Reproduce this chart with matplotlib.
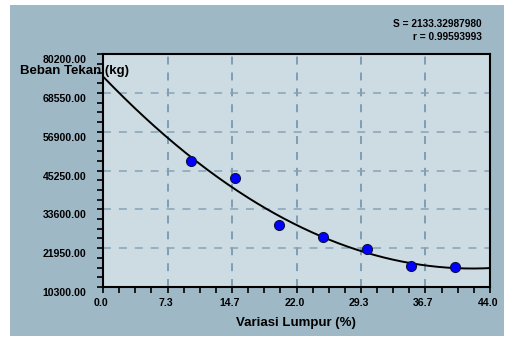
import numpy as np
import matplotlib
matplotlib.use("Agg")
import matplotlib.pyplot as plt
from matplotlib.patches import Rectangle
from matplotlib.ticker import FixedLocator, AutoMinorLocator, FormatStrFormatter
from matplotlib.transforms import ScaledTranslation

# data
lumpur = [10, 15, 20, 25, 30, 35, 40]
beban = [48100, 42910, 28900, 25400, 21700, 16500, 16300]

x_ticks = [0.0, 44 / 6, 88 / 6, 22.0, 176 / 6, 220 / 6, 44.0]
y_ticks = [10300, 21950, 33600, 45250, 56900, 68550, 80200]

fit_text = "S = 2133.32987980\nr = 0.99593993"

plt.rcParams['font.family'] = ['Liberation Sans', 'DejaVu Sans']
plt.rcParams['font.weight'] = 'bold'

W, H = 508, 337
fig = plt.figure(figsize=(W / 100, H / 100), dpi=100, facecolor='white')

# blue-grey panel behind everything
fig.patches.append(Rectangle((10 / W, 1 - 336 / H), 494 / W, 331 / H,
                             transform=fig.transFigure, facecolor='#9fb8c6',
                             edgecolor='none', zorder=-5))

ax = fig.add_axes([103 / W, 1 - 287 / H, 387 / W, 233 / H])
ax.set_zorder(1)
ax.set_facecolor('#cddce3')

# quadratic regression like the original program
coef = np.polyfit(lumpur, beban, 2)
xx = np.linspace(0, 44, 300)
ax.plot(xx, np.polyval(coef, xx), color='black', lw=1.4, zorder=3)

ax.plot(lumpur, beban, 'o', ms=7.2, mfc='#0000ff', mec='#101040', mew=0.8,
        zorder=4, clip_on=False)

ax.set_xlim(0, 44)
ax.set_ylim(10300, 80200)
ax.xaxis.set_major_locator(FixedLocator(x_ticks))
ax.yaxis.set_major_locator(FixedLocator(y_ticks))
ax.xaxis.set_minor_locator(AutoMinorLocator(4))
ax.yaxis.set_minor_locator(AutoMinorLocator(4))
ax.xaxis.set_major_formatter(FormatStrFormatter('%.1f'))
ax.yaxis.set_major_formatter(FormatStrFormatter('%.2f'))

ax.tick_params(which='both', direction='out', length=4, width=1.2, color='black')
ax.tick_params(axis='x', which='major', labelsize=7.6, pad=4)
ax.tick_params(axis='y', which='major', labelsize=7.6, pad=8)
for lab in ax.get_yticklabels():
    lab.set_transform(lab.get_transform() + ScaledTranslation(0, -0.05, fig.dpi_scale_trans))
for lab in ax.get_xticklabels():
    lab.set_transform(lab.get_transform() + ScaledTranslation(-0.02, 0, fig.dpi_scale_trans))

for sp in ax.spines.values():
    sp.set_linewidth(1.5)
    sp.set_color('black')

ax.xaxis.grid(True, which='major', color='#6a8ca4', lw=1.1, ls=(0, (5.2, 5.2)))
ax.yaxis.grid(True, which='major', color='#86a3b7', lw=1.1, ls=(0, (5.2, 5.2)))
ax.set_axisbelow(True)

fig.text(296 / W, 1 - 323 / H, "Variasi Lumpur (%)", ha='center', va='center',
         fontsize=9.5, fontweight='bold')
fig.text(20.5 / W, 1 - 71 / H, "Beban Tekan (kg)", ha='left', va='center',
         fontsize=9.5, fontweight='bold', zorder=10)
fig.text(482 / W, 1 - 30.5 / H, fit_text, ha='right', va='center',
         fontsize=7.3, fontweight='bold', linespacing=1.35, multialignment='right')

fig.savefig('out.png', dpi=100, facecolor='white')
